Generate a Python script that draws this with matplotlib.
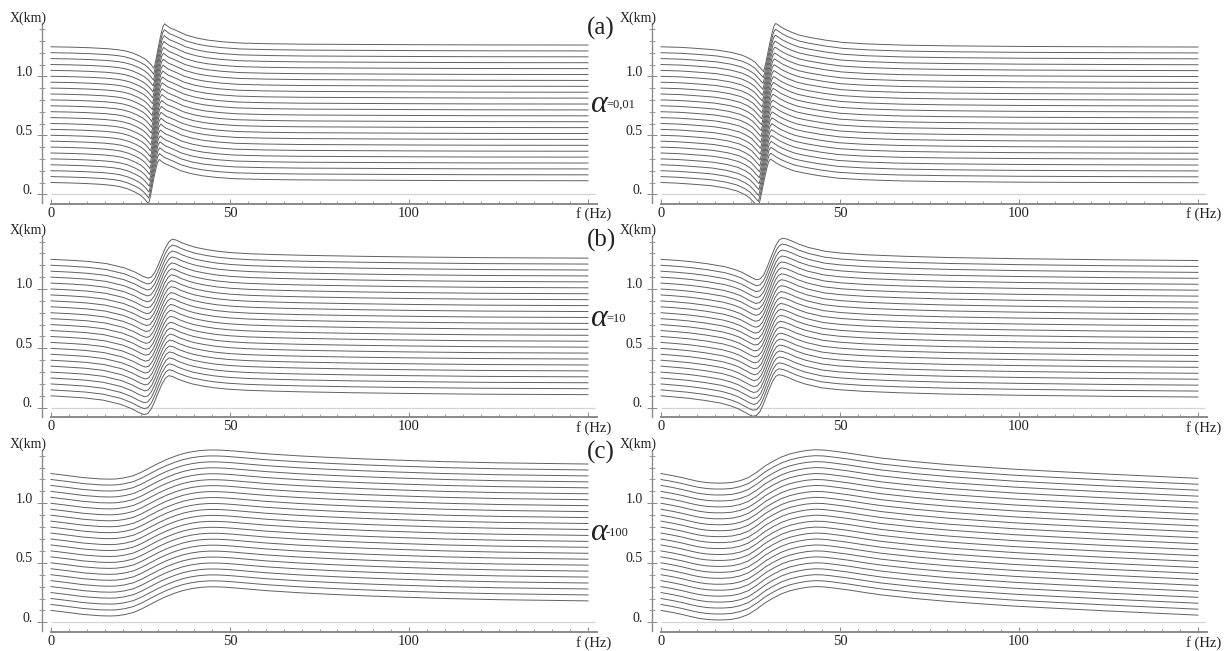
import numpy as np
import matplotlib
matplotlib.use("Agg")
import matplotlib.pyplot as plt

plt.rcParams['font.family'] = ['Liberation Serif', 'DejaVu Serif']

W, H = 1232, 651

# offsets (km) of the 24 traces
trace_x = [0.10, 0.15, 0.20, 0.25, 0.30, 0.35, 0.40, 0.45, 0.50, 0.55, 0.60, 0.65,
           0.70, 0.75, 0.80, 0.85, 0.90, 0.95, 1.00, 1.05, 1.10, 1.15, 1.20, 1.25]

# ---- trace shapes (deviation from the trace offset, km) ----
f_a_left = [0, 5, 10, 15, 18, 20, 22, 24, 25.5, 26.5, 27.3, 28.0, 28.5, 29.0, 29.5, 30.0,
            30.5, 31.0, 31.6, 32.5, 33.5, 35, 37, 40, 43, 47, 52, 60, 70, 85, 100, 120, 150]
dy_a_left = [0, -0.003, -0.008, -0.016, -0.025, -0.035, -0.052, -0.078, -0.103, -0.128,
             -0.155, -0.182, -0.12, -0.04, 0.04, 0.11, 0.17, 0.195, 0.18, 0.16, 0.148,
             0.128, 0.10, 0.074, 0.057, 0.043, 0.032, 0.026, 0.022, 0.02, 0.018, 0.016, 0.015]

f_a_right = [0, 5, 8, 12, 15, 19, 22, 24, 25.5, 26.6, 27.3, 27.9, 28.5, 29.1, 29.7, 30.3,
             30.8, 31.3, 32.0, 33.2, 34.5, 36, 38, 40.7, 45.3, 50, 57, 67, 80, 100, 125, 150]
dy_a_right = [0, -0.005, -0.011, -0.02, -0.028, -0.048, -0.072, -0.10, -0.13, -0.166,
              -0.19, -0.21, -0.14, -0.05, 0.04, 0.12, 0.175, 0.198, 0.185, 0.16, 0.14,
              0.12, 0.098, 0.08, 0.056, 0.037, 0.024, 0.014, 0.008, 0.003, 0.0, -0.002]

f_b_left = [0, 5, 10, 15, 20, 23, 25, 26.5, 27.5, 28.5, 29.5, 30.5, 31.5, 32.5, 33.4, 34.5,
            36, 38, 40, 43, 46, 50, 55, 62, 70, 85, 100, 120, 150]
dy_b_left = [0, -0.008, -0.018, -0.036, -0.072, -0.108, -0.14, -0.158, -0.15, -0.11, -0.045,
             0.03, 0.10, 0.15, 0.17, 0.162, 0.14, 0.118, 0.10, 0.082, 0.068, 0.056, 0.047,
             0.04, 0.034, 0.026, 0.02, 0.014, 0.01]

f_b_right = [0, 4, 8, 12.6, 17.3, 20, 22, 24, 25.2, 26.2, 27.2, 28.2, 29.1, 30.0, 30.9, 31.8,
             32.6, 33.4, 34.5, 36, 38, 40.7, 45.3, 50, 57, 67, 80, 100, 125, 150]
dy_b_right = [0, -0.009, -0.02, -0.038, -0.062, -0.085, -0.108, -0.14, -0.16, -0.172, -0.165,
              -0.13, -0.07, 0.0, 0.07, 0.13, 0.165, 0.178, 0.172, 0.155, 0.128, 0.10, 0.068,
              0.052, 0.038, 0.026, 0.015, 0.005, -0.004, -0.01]

f_c_left = [0, 4.4, 9, 13.7, 16.5, 18.3, 20.5, 23, 25.3, 27.7, 30, 32.3, 34.7, 37, 39.3, 41.6,
            44, 46.3, 48.6, 50.9, 55.5, 60.2, 69.6, 78.9, 88.2, 97.5, 110, 125, 150]
dy_c_left = [0, -0.016, -0.034, -0.045, -0.047, -0.045, -0.036, -0.018, 0.012, 0.05, 0.086,
             0.118, 0.146, 0.168, 0.183, 0.193, 0.198, 0.198, 0.195, 0.19, 0.178, 0.166,
             0.148, 0.134, 0.122, 0.112, 0.10, 0.09, 0.08]

f_c_right = [0, 3, 5.9, 8.2, 10.5, 12.8, 15.1, 17.4, 19.8, 22.1, 24.4, 26.8, 29.1, 31.4, 33.7,
             36, 38.4, 40.7, 43, 45.3, 47.7, 52.3, 57, 61.6, 70.9, 80.2, 89.5, 98.8, 110, 125, 150]
dy_c_right = [0, -0.016, -0.034, -0.051, -0.066, -0.076, -0.08, -0.08, -0.075, -0.06, -0.034,
              0.012, 0.064, 0.105, 0.14, 0.165, 0.182, 0.194, 0.2, 0.198, 0.19, 0.172, 0.15,
              0.13, 0.10, 0.075, 0.055, 0.036, 0.018, -0.005, -0.04]

# drift (Hz) of the resonance from the lowest to the highest trace
drift = {'a_left': 1.5, 'a_right': 1.5, 'b_left': 1.0, 'b_right': 1.0,
         'c_left': 0.0, 'c_right': 0.0}

panel_labels = ['(a)', '(b)', '(c)']
alpha_values = ['=0,01', '=10', '-100']
y_major = [0.0, 0.5, 1.0]
y_major_labels = ['0.', '0.5', '1.0']
x_major = [0, 50, 100, 150]
x_major_labels = ['0', '50', '100', '']

shapes = {
    (0, 0): (f_a_left, dy_a_left, drift['a_left']),
    (0, 1): (f_a_right, dy_a_right, drift['a_right']),
    (1, 0): (f_b_left, dy_b_left, drift['b_left']),
    (1, 1): (f_b_right, dy_b_right, drift['b_right']),
    (2, 0): (f_c_left, dy_c_left, drift['c_left']),
    (2, 1): (f_c_right, dy_c_right, drift['c_right']),
}

# ---- layout (pixels) ----
X0 = [51, 661]           # pixel of f = 0 per column
PXHZ = 3.58              # pixels per Hz
ZERO = [194.3, 407.7, 622.3]
PXKM = [118.0, 118.7, 119.0]

TRACE_C = '#606060'
AXIS_C = '#8a8a8a'
TEXT_C = '#222222'

fig = plt.figure(figsize=(W / 100, H / 100), dpi=100)
fig.patch.set_facecolor('white')

xl, xr = -2.5, 153.5
yb, yt = -0.078, 1.47

for (r, c), (fk, dk, dr) in shapes.items():
    x0 = X0[c]
    zero = ZERO[r]
    pk = PXKM[r]
    left = x0 + xl * PXHZ
    right = x0 + xr * PXHZ
    top = zero - yt * pk
    bottom = zero - yb * pk
    ax = fig.add_axes([left / W, 1 - bottom / H, (right - left) / W, (bottom - top) / H])
    ax.set_xlim(xl, xr)
    ax.set_ylim(yb, yt)
    ax.patch.set_visible(False)
    for s in ['top', 'right']:
        ax.spines[s].set_visible(False)
    ax.spines['left'].set_bounds(-0.076, 1.45)
    ax.spines['bottom'].set_bounds(0, 152.5)
    ax.spines['left'].set_color(AXIS_C)
    ax.spines['bottom'].set_color(AXIS_C)
    ax.spines['left'].set_linewidth(1.0)
    ax.spines['bottom'].set_linewidth(1.4)

    # light axis line at X = 0
    ax.hlines(0, 0, 152, color='#d4d4d4', lw=0.9, zorder=1)

    fk = np.asarray(fk, dtype=float)
    dk = np.asarray(dk, dtype=float)
    n = len(trace_x)
    for k, X in enumerate(trace_x):
        fx = fk.copy()
        fx[1:-1] += dr * (k / (n - 1) - 0.5)
        ax.plot(fx, X + dk, color=TRACE_C, lw=0.7, zorder=2, solid_joinstyle='round')

    # x ticks
    ax.set_xticks(x_major)
    ax.set_xticklabels(x_major_labels)
    ax.set_xticks(np.arange(0, 151, 5), minor=True)
    ax.tick_params(axis='x', which='major', direction='in', length=3.3, width=0.7,
                   color=AXIS_C, labelsize=10.5, labelcolor=TEXT_C, pad=2.5)
    ax.tick_params(axis='x', which='minor', direction='in', length=2.2, width=0.6,
                   color=AXIS_C)
    ax.annotate('f (Hz)', xy=(151.5, 0), xycoords=('data', 'axes fraction'),
                xytext=(0, -11), textcoords='offset pixels', ha='center', va='center',
                fontsize=10.5, color=TEXT_C)

    # y ticks
    ax.set_yticks(y_major)
    ax.set_yticklabels([])
    ax.set_yticks(np.arange(0, 1.41, 0.1), minor=True)
    ax.tick_params(axis='y', which='major', direction='inout', length=7, width=0.7,
                   color=AXIS_C)
    ax.tick_params(axis='y', which='minor', direction='inout', length=4.2, width=0.6,
                   color=AXIS_C)
    for v, lab in zip(y_major, y_major_labels):
        ax.annotate(lab, xy=(0, v), xycoords=('axes fraction', 'data'),
                    xytext=(-9, 4), textcoords='offset pixels', ha='right', va='center',
                    fontsize=10, color=TEXT_C)
    ax.annotate('X(km)', xy=(0, 1.495), xycoords=('axes fraction', 'data'),
                xytext=(-14, 0), textcoords='offset pixels', ha='center', va='center',
                fontsize=10, color=TEXT_C)

# panel letters and alpha labels
letter_y = [28, 240, 452]
alpha_y = [104, 318, 532]
for r in range(3):
    fig.text(601 / W, 1 - letter_y[r] / H, panel_labels[r], ha='center', va='center',
             fontsize=18, color=TEXT_C)
    fig.text(598 / W, 1 - alpha_y[r] / H, 'α', ha='center', va='center',
             fontsize=23, style='italic', color=TEXT_C)
    fig.text(606 / W, 1 - (alpha_y[r] + 1) / H, alpha_values[r], ha='left', va='center',
             fontsize=9, color=TEXT_C)

fig.savefig('out.png', dpi=100, facecolor='white')
